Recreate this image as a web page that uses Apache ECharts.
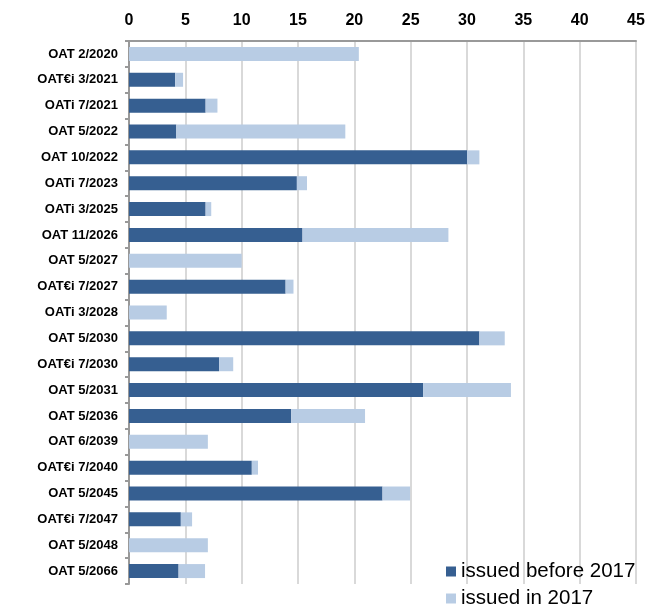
<!DOCTYPE html>
<html>
<head>
<meta charset="utf-8"/>
<title>OAT</title>
<script src="https://cdn.jsdelivr.net/npm/echarts@6/dist/echarts.min.js"></script>
<style>
	body{margin:0;padding:0;background:#fff;}
	#chart{width:662px;height:606px;}
</style>
</head>
<body>
<div id="chart"></div>
<script>
	// 债券名称
	var bond_names = ['OAT 2/2020','OAT€i 3/2021','OATi 7/2021','OAT 5/2022','OAT 10/2022','OATi 7/2023','OATi 3/2025','OAT 11/2026','OAT 5/2027','OAT€i 7/2027','OATi 3/2028','OAT 5/2030','OAT€i 7/2030','OAT 5/2031','OAT 5/2036','OAT 6/2039','OAT€i 7/2040','OAT 5/2045','OAT€i 7/2047','OAT 5/2048','OAT 5/2066'];
	// 2017年前发行
	var issued_before = [0,4.1,6.8,4.2,30.0,14.9,6.8,15.4,0,13.9,0,31.1,8.0,26.1,14.4,0,10.9,22.5,4.6,0,4.4];
	// 2017年发行
	var issued_in = [20.4,0.7,1.05,15.0,1.1,0.9,0.5,12.95,10.0,0.7,3.35,2.25,1.25,7.8,6.55,7.0,0.55,2.45,1.0,7.0,2.35];
	var series_names = ['issued before 2017','issued in 2017'];

	// 图例样式
	function makeLegend(name, top){
		return {
			left: 446,
			top: top,
			padding: 0,
			itemWidth: 10,
			itemHeight: 10,
			icon: 'rect',
			textStyle: {
				fontFamily: 'Liberation Sans',
				fontSize: 20.5,
				color: '#000'
			},
			data: [name]
		};
	}

	var myChart = echarts.init(document.getElementById('chart'));
	var option = {
		animation: false,
		color: ['#365f91','#b8cce4'],
		grid: {
			left: 129,
			right: 26,
			top: 41,
			bottom: 22
		},
		legend: [
			makeLegend(series_names[0], 561),
			makeLegend(series_names[1], 588)
		],
		xAxis: {
			type: 'value',
			position: 'top',
			min: 0,
			max: 45,
			interval: 5,
			axisLine: {show: true, lineStyle: {color: '#999', width: 2}},
			axisTick: {show: false},
			splitLine: {show: true, lineStyle: {color: '#d9d9d9', width: 2}},
			axisLabel: {
				margin: 12,
				fontFamily: 'Liberation Sans',
				fontWeight: 'bold',
				fontSize: 16,
				color: '#000'
			}
		},
		yAxis: {
			type: 'category',
			inverse: true,
			data: bond_names,
			axisLine: {show: true, lineStyle: {color: '#999', width: 2}},
			axisTick: {show: true, length: 4, lineStyle: {color: '#999', width: 2}},
			axisLabel: {
				margin: 11,
				fontFamily: 'Liberation Sans',
				fontWeight: 'bold',
				fontSize: 13,
				color: '#000'
			}
		},
		series: [
			{
				name: series_names[0],
				type: 'bar',
				stack: 'total',
				barWidth: 14,
				data: issued_before
			},
			{
				name: series_names[1],
				type: 'bar',
				stack: 'total',
				barWidth: 14,
				data: issued_in
			}
		]
	};
	myChart.setOption(option);
</script>
</body>
</html>
